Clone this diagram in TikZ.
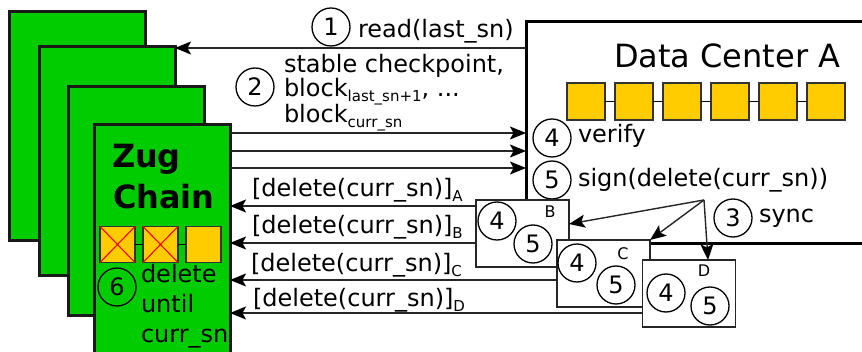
\documentclass[tikz,border=0pt]{standalone}
\usepackage{fontspec}
\setmainfont{DejaVu Sans}
\usetikzlibrary{arrows.meta,calc}

\definecolor{zgreen}{RGB}{0,204,0}
\definecolor{blockyellow}{RGB}{255,204,0}

% lowered, smaller text for subscripts
\newcommand\dsub[1]{\raisebox{-5pt}{\fontsize{15}{15}\selectfont #1}}

\begin{document}
\begin{tikzpicture}[x=1pt,y=-1pt,
  every node/.style={inner sep=0pt, outer sep=0pt},
  txt/.style={anchor=base west, font=\fontsize{24}{29}\selectfont},
  zugbox/.style={draw=black!90, line width=3pt, fill=zgreen,
    minimum width=136pt, minimum height=229pt},
  dcbox/.style={draw=black, line width=3pt, fill=white,
    minimum width=352pt, minimum height=222pt},
  replica/.style={draw=black!85, line width=1.8pt, fill=white,
    minimum width=93pt, minimum height=67pt},
  blk/.style={draw=black!80, line width=1.2pt, fill=blockyellow,
    minimum width=35pt, minimum height=36pt},
  link/.style={draw=black, line width=1.3pt},
  cross/.style={draw=red, line width=1.1pt},
  num/.style={circle, draw=black, line width=1.3pt, minimum size=38pt,
    font=\fontsize{24}{24}\selectfont},
  tag/.style={font=\fontsize{16}{16}\selectfont},
  arr/.style={draw=black!85, line width=1.4pt,
    -{Stealth[length=16pt,width=13pt,inset=3.5pt,color=black]}}
]
\useasboundingbox (0,0) rectangle (862,352);

% ---- Zug Chain replicas, back to front ----
\node[zugbox] (z1) at (77.5,126) {};
\node[zugbox] (z2) at (107,161) {};
\node[zugbox] (z3) at (136.5,201) {};
\node[zugbox] (zc) at (162,239) {};

\node[anchor=base west, font=\fontsize{32}{32}\selectfont\bfseries] (zug1) at (112,168) {Zug};
\node[anchor=base west, font=\fontsize{32}{32}\selectfont\bfseries] (zug2) at (113,209) {Chain};

% local chain: two pruned blocks and one kept block
\node[blk] (g1) at (117.5,244.5) {};
\node[blk] (g2) at (160.5,244.5) {};
\node[blk] (g3) at (203.5,244.5) {};
\draw[link] (g1) -- (g2) (g2) -- (g3);
\draw[cross] (g1.north west) -- (g1.south east) (g1.north east) -- (g1.south west);
\draw[cross] (g2.north west) -- (g2.south east) (g2.north east) -- (g2.south west);

\node[num] (c6) at (117,287) {6};
\node[txt] (del1) at (141,283) {delete};
\node[txt] (del2) at (141,313) {until};
\node[txt] (del3) at (141,343) {curr\_sn};

% ---- Data Center A ----
\node[dcbox] (dc) at (702,133) {};
\node[anchor=base west, font=\fontsize{32}{32}\selectfont] (dct) at (614,68) {Data Center A};
\foreach \i/\x in {1/586,2/634,3/682,4/730,5/778,6/826}
  \node[blk, minimum width=38pt, minimum height=37pt] (d\i) at (\x,101.5) {};
\foreach \a/\b in {1/2,2/3,3/4,4/5,5/6}
  \draw[link] (d\a) -- (d\b);

% step 1: read
\draw[arr] (dc.west |- 0,48) -- (z2.east |- 0,48);
\node[num] (c1) at (331,27) {1};
\node[txt] (t1) at (358,38) {read(last\_sn)};

% step 2: checkpoint and blocks
\draw[arr] (zc.east |- 0,133) -- (dc.west |- 0,133);
\draw[arr] (zc.east |- 0,151) -- (dc.west |- 0,151);
\draw[arr] (zc.east |- 0,168) -- (dc.west |- 0,168);
\node[num] (c2) at (255,87) {2};
\node[txt] (t2a) at (284,73) {stable checkpoint,};
\node[txt] (t2b) at (284,97) {block\dsub{last\_sn+1}, ...};
\node[txt] (t2c) at (284,123) {block\dsub{curr\_sn}};

% steps 4 and 5 at data center A
\node[num] (c4) at (552,138) {4};
\node[txt] (t4) at (578,143) {verify};
\node[num] (c5) at (552,180) {5};
\node[txt] (t5) at (578,187) {sign(delete(curr\_sn))};

% signed delete messages back to the Zug Chain
\draw[arr] (dc.west |- 0,206) -- (zc.east |- 0,206);
\node[txt] (la) at (252,197) {[delete(curr\_sn)]\dsub{A}};

% ---- other data centers ----
\node[replica] (b) at (522.5,233.5) {};
\node[replica] (c) at (603.5,273.5) {};
\node[replica] (d) at (689,293.5) {};

\draw[arr] (b.west |- 0,243) -- (zc.east |- 0,243);
\node[txt] (lb) at (252,234) {[delete(curr\_sn)]\dsub{B}};
\draw[arr] (c.west |- 0,280) -- (zc.east |- 0,280);
\node[txt] (lc) at (251,272) {[delete(curr\_sn)]\dsub{C}};
\draw[arr] (d.west |- 0,313) -- (zc.east |- 0,313);
\node[txt] (ld) at (253,307) {[delete(curr\_sn)]\dsub{D}};

\node[tag] (tb) at (550,212) {B};
\node[num] (b4) at (497,221) {4};
\node[num] (b5) at (533,244) {5};
\node[tag] (tc) at (623,254) {C};
\node[num] (c4b) at (577,263) {4};
\node[num] (c5b) at (616,285) {5};
\node[tag] (td) at (704,271) {D};
\node[num] (d4) at (666,293) {4};
\node[num] (d5) at (710,306) {5};

% step 3: sync to the other data centers
\coordinate (fork) at (704,200);
\draw[arr] (fork) -- (b.east |- 0,224);
\draw[arr] (fork) -- (c.north east);
\draw[arr] (fork) -- (d.north -| 708,0);
\node[num] (c3) at (733,218) {3};
\node[txt] (t3) at (759,223) {sync};

\end{tikzpicture}
\end{document}
